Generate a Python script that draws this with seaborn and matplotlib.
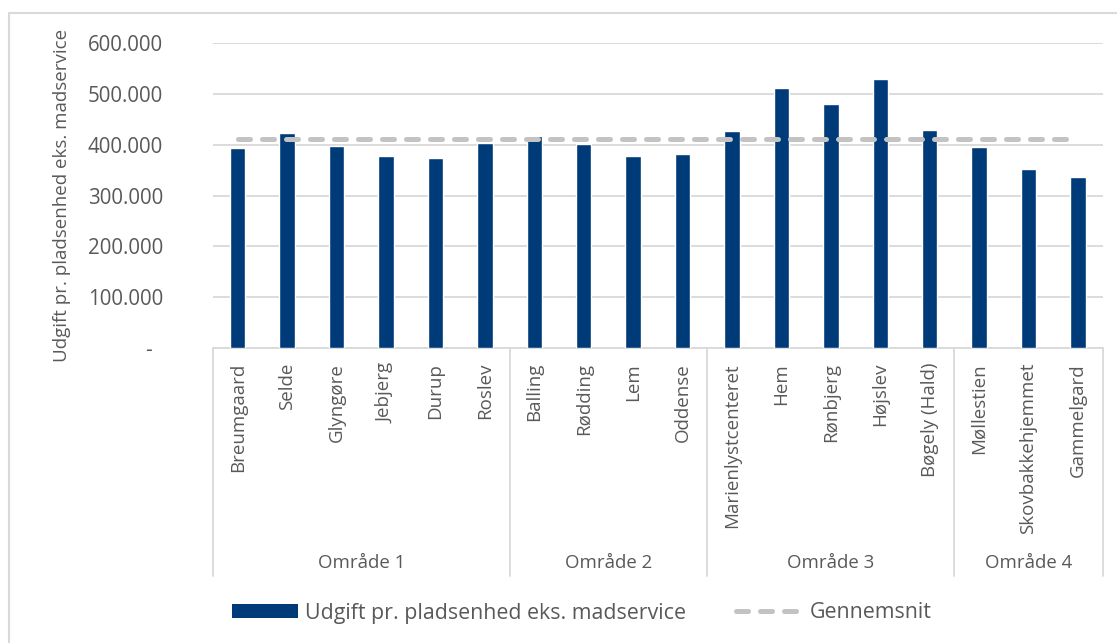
import numpy as np
import pandas as pd
import matplotlib
matplotlib.use("Agg")
import matplotlib.pyplot as plt
import matplotlib.transforms as mtransforms
from matplotlib.patches import Patch, Rectangle
from matplotlib.lines import Line2D
from matplotlib.ticker import FuncFormatter
import seaborn as sns

# Data: cost per place unit (excl. meal service), grouped by area
categories = ["Breumgaard", "Selde", "Glyngøre", "Jebjerg", "Durup", "Roslev",
              "Balling", "Rødding", "Lem", "Oddense",
              "Marienlystcenteret", "Hem", "Rønbjerg", "Højslev", "Bøgely (Hald)",
              "Møllestien", "Skovbakkehjemmet", "Gammelgard"]
values = [393300, 423400, 396600, 378300, 373700, 402500,
          416900, 401200, 378300, 382200,
          426700, 510500, 479700, 528800, 429300,
          396000, 352100, 337000]
areas = ["Område 1", "Område 2", "Område 3", "Område 4"]
area_sizes = [6, 4, 5, 3]
average = 411600

series_label = "Udgift pr. pladsenhed eks. madservice"
avg_label = "Gennemsnit"

BAR_COLOR = "#003B79"
AVG_COLOR = "#C3C3C3"
GRID_COLOR = "#D9D9D9"
TEXT_COLOR = "#595959"

sns.set_theme(style="white")
plt.rcParams["font.family"] = ["Open Sans", "DejaVu Sans"]

df = pd.DataFrame({"name": categories, "value": values})
df["pos"] = np.arange(len(df))
df["avg"] = average

fig = plt.figure(figsize=(11.17, 6.43), dpi=100)
ax = fig.add_axes([213 / 1117, 1 - 348.3 / 643, 889.7 / 1117, 305.6 / 643])

sns.barplot(data=df, x="name", y="value", color=BAR_COLOR, width=0.31,
            saturation=1, ax=ax, zorder=3)
sns.lineplot(data=df, x="pos", y="avg", color=AVG_COLOR, lw=3.6,
             linestyle=(0, (2.4, 2.4)), legend=False, ax=ax, zorder=4)
for ln in ax.lines:
    ln.set_dash_capstyle("round")

ax.set_xlim(-0.5, len(categories) - 0.5)
ax.set_ylim(0, 600000)
ax.set_yticks(np.arange(0, 600001, 100000))
ax.yaxis.set_major_formatter(FuncFormatter(
    lambda v, p: "-  " if v == 0 else f"{v:,.0f}".replace(",", ".")))
ax.grid(axis="y", color=GRID_COLOR, lw=1.3, zorder=0)
ax.grid(axis="x", visible=False)
for side in ["top", "right", "left"]:
    ax.spines[side].set_visible(False)
ax.spines["bottom"].set_color(GRID_COLOR)
ax.spines["bottom"].set_linewidth(1.3)

ax.tick_params(axis="y", length=0, pad=36, labelsize=14.8, labelcolor=TEXT_COLOR)
ax.tick_params(axis="x", length=0, pad=10.5, labelsize=13.5, labelcolor=TEXT_COLOR)
ax.set_xticks(df["pos"])
ax.set_xticklabels(categories, rotation=90, va="top", ha="center")

ax.set_xlabel("")
ax.set_ylabel(series_label, fontsize=13.5, color=TEXT_COLOR)
ax.yaxis.set_label_coords(-0.16, 0.5)

# Area grouping beneath the category labels
trans = mtransforms.blended_transform_factory(ax.transData, ax.transAxes)
bounds = np.concatenate([[0], np.cumsum(area_sizes)]) - 0.5
for b in bounds:
    ax.plot([b, b], [0, -0.745], transform=trans, color=GRID_COLOR, lw=1.3,
            clip_on=False)
for name, lo, hi in zip(areas, bounds[:-1], bounds[1:]):
    ax.text((lo + hi) / 2, -0.7026, name, transform=trans, ha="center",
            va="center", fontsize=13.4, color=TEXT_COLOR)

# Chart frame
fig.patches.append(Rectangle((9 / 1117, -0.5), 1.2, 1.5 - 13 / 643,
                             transform=fig.transFigure, fill=False,
                             edgecolor=GRID_COLOR, lw=1.5))

handles = [Patch(facecolor=BAR_COLOR, edgecolor="none", label=series_label),
           Line2D([], [], color=AVG_COLOR, lw=3.6, linestyle=(0, (2.4, 2.4)),
                  dash_capstyle="round", label=avg_label)]
leg = fig.legend(handles=handles, loc="center", ncol=2,
                 bbox_to_anchor=(581.5 / 1117, 1 - 613 / 643),
                 frameon=False, fontsize=15.4, handlelength=3.1,
                 handleheight=0.65, handletextpad=0.35, columnspacing=2.3)
for t in leg.get_texts():
    t.set_color(TEXT_COLOR)

fig.savefig("out.png", dpi=100)
